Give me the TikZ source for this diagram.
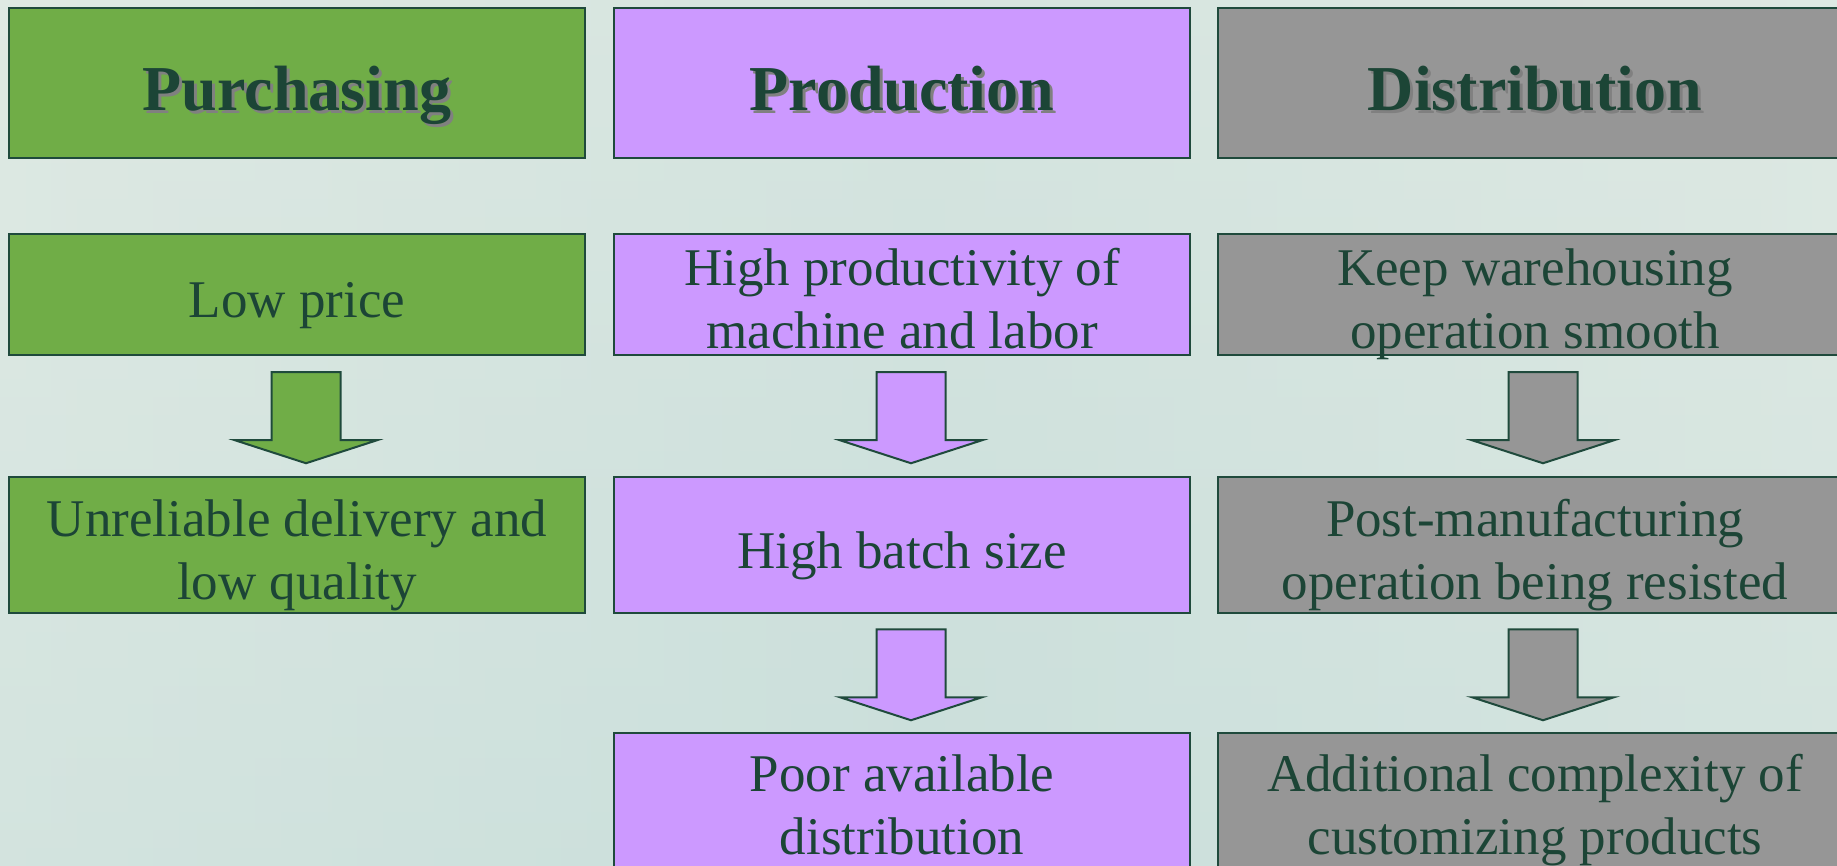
\documentclass[tikz,border=0pt]{standalone}
\usepackage{fontspec}
\setmainfont{Liberation Serif}
\usetikzlibrary{calc}
\definecolor{bordergreen}{HTML}{1F4A3C}
\definecolor{inkgreen}{HTML}{1C4536}
\definecolor{purchfill}{HTML}{70AD47}
\definecolor{prodfill}{HTML}{CC99FF}
\definecolor{distfill}{HTML}{969696}
\definecolor{bgtop}{HTML}{E2EBE5}
\definecolor{bgbottom}{HTML}{CADFDB}
\definecolor{bgleft}{HTML}{DCE8E2}
% each line gets a fixed height and depth, whatever its letters
\newcommand\lineof[1]{\rule[-5pt]{0pt}{56pt}\raisebox{0pt}[0pt][0pt]{#1}}
% bold heading with a soft drop shadow
\newcommand\shadowed[1]{\leavevmode\rule[-6pt]{0pt}{68pt}%
  \raisebox{0pt}[0pt][0pt]{\rlap{\kern3pt\raisebox{-3pt}{\textcolor{black!50}{#1}}}#1}}
\begin{document}
\begin{tikzpicture}[x=1pt,y=-1pt,
  box/.style={draw=bordergreen, line width=2.5pt, inner sep=0pt,
    minimum width=576pt, text=inkgreen, align=center,
    font=\fontsize{53}{63}\selectfont},
  head/.style={box, minimum height=150pt, font=\fontsize{64}{70}\selectfont\bfseries},
  widebox/.style={minimum width=634pt},
  purch/.style={fill=purchfill},
  prod/.style={fill=prodfill},
  dist/.style={fill=distfill},
  flowarrow/.style={draw=bordergreen, line width=2pt, line join=miter},
  downarrow/.pic={
    \path[pic actions] (-34.5,0) -- (34.5,0) -- (34.5,68) -- (71,68)
      -- (0,91) -- (-71,68) -- (-34.5,68) -- cycle;
  }]
\useasboundingbox (0,0) rectangle (1837,866);
\clip (0,0) rectangle (1837,866);

% textured pale background
\shade[top color=bgtop, bottom color=bgbottom] (0,0) rectangle (1837,866);
\shade[left color=bgleft, right color=bgleft, opacity=0.5, middle color=bgbottom]
  (0,0) rectangle (1837,866);

% column headings
\node[head, purch] (h1) at (297,83) {\shadowed{Purchasing}};
\node[head, prod]  (h2) at (902,83) {\shadowed{Production}};
\node[head, dist, widebox] (h3) at (1535,83) {\shadowed{Distribution}};

% first row
\node[box, purch, minimum height=121pt] (a1) at (297,294.5) {\lineof{Low price}};
\node[box, prod,  minimum height=121pt] (a2) at (902,294.5) {\lineof{High productivity of}\\\lineof{machine and labor}};
\node[box, dist, widebox, minimum height=121pt] (a3) at (1535,294.5) {\lineof{Keep warehousing}\\\lineof{operation smooth}};

% second row
\node[box, purch, minimum height=136pt] (b1) at (297,545) {\lineof{Unreliable delivery and}\\\lineof{low quality}};
\node[box, prod,  minimum height=136pt] (b2) at (902,545) {\lineof{High batch size}};
\node[box, dist, widebox, minimum height=136pt] (b3) at (1535,545) {\lineof{Post-manufacturing}\\\lineof{operation being resisted}};

% third row, running past the lower edge
\node[box, prod, minimum height=134pt] (c2) at (902,800) {\lineof{Poor available}\\\lineof{distribution}};
\node[box, dist, widebox, minimum height=134pt] (c3) at (1535,800) {\lineof{Additional complexity of}\\\lineof{customizing products}};

% block arrows between the rows
\pic[flowarrow, fill=purchfill] at ($(a1.south)+(9,16)$) {downarrow};
\pic[flowarrow, fill=prodfill]  at ($(a2.south)+(9,16)$) {downarrow};
\pic[flowarrow, fill=distfill]  at ($(a3.south)+(8,16)$) {downarrow};
\pic[flowarrow, fill=prodfill]  at ($(b2.south)+(9,15)$) {downarrow};
\pic[flowarrow, fill=distfill]  at ($(b3.south)+(8,15)$) {downarrow};
\end{tikzpicture}
\end{document}
